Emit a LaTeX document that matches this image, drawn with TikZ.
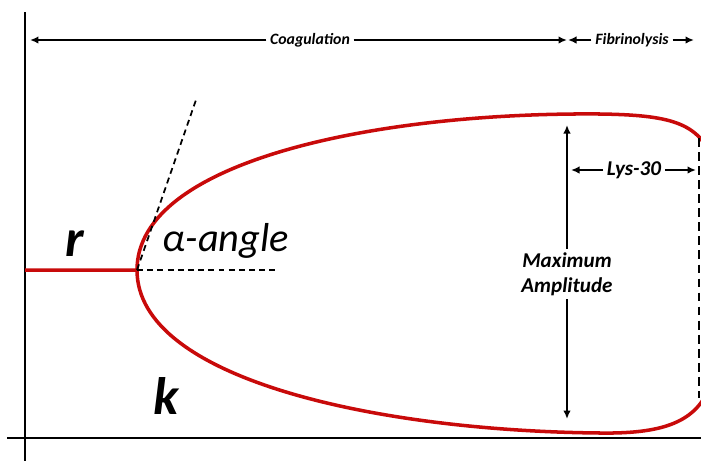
\documentclass[tikz,border=0pt]{standalone}
\usepackage{fontspec}
\setmainfont{Carlito}
\usetikzlibrary{arrows.meta,positioning}
\definecolor{clotred}{RGB}{200,10,10}

\begin{document}
\begin{tikzpicture}[
  x=0.02cm,y=-0.02cm,
  axis/.style={line width=1.4pt},
  arr/.style={line width=1.1pt,-{Latex[length=1.7mm,width=1.5mm]}},
  clot/.style={draw=clotred,line width=2pt},
  guide/.style={line width=1pt,dash pattern=on 3.4pt off 2.4pt},
  span/.style={font=\fontsize{9}{10}\selectfont\bfseries\itshape,inner sep=2pt},
  ptxt/.style={font=\fontsize{12}{14}\selectfont\bfseries\itshape,align=center,inner sep=2pt},
  big/.style={font=\fontsize{30}{32}\selectfont\bfseries\itshape}]
\useasboundingbox (0,0) rectangle (701,461);
\clip (0,0) rectangle (701,461);

% --- axes ---
\coordinate (ytop) at (25,12);
\coordinate (ybot) at (25,461);
\coordinate (xl) at (7,438);
\coordinate (xr) at (701,438);
\draw[axis] (ytop) -- (ybot);
\draw[axis] (xl) -- (xr);

% --- phases on top ---
\node[span] (coag) at (310,40) {Coagulation};
\coordinate (coagl) at (30,40);
\coordinate (coagr) at (567,40);
\draw[arr] (coag.west) -- (coagl);
\draw[arr] (coag.east) -- (coagr);
\node[span] (fib) at (632,40) {Fibrinolysis};
\coordinate (fibl) at (568,40);
\coordinate (fibr) at (694,40);
\draw[arr] (fib.west) -- (fibl);
\draw[arr] (fib.east) -- (fibr);

% --- trace ---
\coordinate (start) at (25,270);
\coordinate (tip) at (137,270);
\draw[clot] (start) -- (tip)
  .. controls (137,160) and (380,112) .. (600,114)
  .. controls (668,115) and (700,122) .. (712,160)
  -- (712,380)
  .. controls (700,420) and (668,434) .. (600,433)
  .. controls (380,431) and (137,380) .. (tip);

% --- alpha angle ---
\coordinate (tan) at (197,97);
\coordinate (hor) at (278,270);
\draw[guide] (tip) -- (tan);
\draw[guide] (tip) -- (hor);
\node[font=\fontsize{23}{26}\selectfont\itshape] (alpha) at (226,241) {α-angle};
\node[big] (r) at (75,244) {r};
\node[big] (k) at (166,396) {k};

% --- maximum amplitude ---
\node[ptxt] (ma) at (567,274) {Maximum\\Amplitude};
\coordinate (maT) at (567,125);
\coordinate (maB) at (567,419);
\draw[arr] (ma.north) -- (maT);
\draw[arr] (ma.south) -- (maB);

% --- lysis ---
\coordinate (lysT) at (699,138);
\coordinate (lysB) at (699,398);
\draw[guide,dash pattern=on 5pt off 3pt] (lysT) -- (lysB);
\node[ptxt] (lys) at (634,170) {Lys-30};
\coordinate (lysl) at (571,170);
\coordinate (lysr) at (696,170);
\draw[arr] (lys.west) -- (lysl);
\draw[arr] (lys.east) -- (lysr);
\end{tikzpicture}
\end{document}
